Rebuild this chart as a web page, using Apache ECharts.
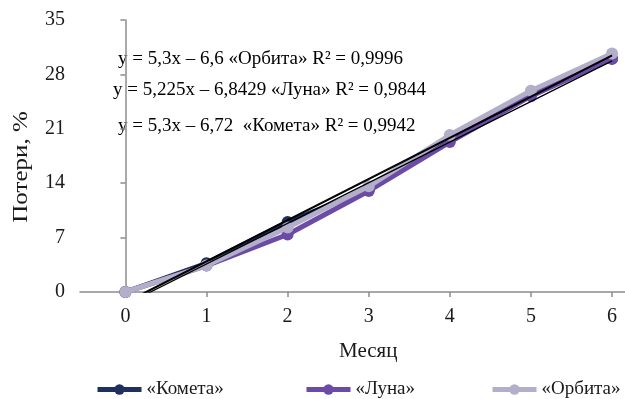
<!DOCTYPE html>
<html>
<head>
<meta charset="utf-8">
<script src="https://cdn.jsdelivr.net/npm/echarts@6/dist/echarts.min.js"></script>
<style>html,body{margin:0;padding:0;background:#fff}#c{width:625px;height:399px}</style>
</head>
<body>
<div id="c"></div>
<script>
const months = [0, 1, 2, 3, 4, 5, 6];
const kometa = [0, 3.7, 9.0, 13.2, 19.8, 25.5, 30.0];
const luna   = [0, 3.4, 7.4, 13.0, 19.3, 25.2, 30.0];
const orbita = [0, 3.4, 8.3, 13.6, 20.2, 25.9, 30.7];
const yTicks = [0, 7, 14, 21, 28, 35];
// trend coefficients [slope, intercept] (Excel x = month + 1)
const trendOrbita = [5.3, -6.6];
const trendLuna = [5.225, -6.8429];
const trendKometa = [5.3, -6.72];
const eqTexts = [
  'y = 5,3x – 6,6 «Орбита» R² = 0,9996',
  'y = 5,225x – 6,8429 «Луна» R² = 0,9844',
  'y = 5,3x – 6,72  «Комета» R² = 0,9942'
];
const names = ['«Комета»', '«Луна»', '«Орбита»'];
const colors = ['#1f2f5f', '#6b4ba6', '#b3aec9'];

const font = '"Liberation Serif", "Times New Roman", serif';
const pair = (arr) => months.map((m, i) => [m, arr[i]]);
const trend = (c) => [[months[0], c[0] * (months[0] + 1) + c[1]], [months[months.length - 1], c[0] * (months[months.length - 1] + 1) + c[1]]];

const chart = echarts.init(document.getElementById('c'));
const dataSeries = [kometa, luna, orbita].map((arr, i) => ({
  name: names[i], type: 'line', data: pair(arr),
  symbol: 'circle', symbolSize: 12, showSymbol: true,
  lineStyle: { width: 5, color: colors[i] },
  itemStyle: { color: colors[i] },
  z: 2 + i, animation: false
}));
const trendSeries = [trendOrbita, trendLuna, trendKometa].map((c) => ({
  type: 'line', data: trend(c), symbol: 'none', silent: true,
  lineStyle: { width: 1.3, color: '#000' }, z: 10, animation: false, clip: true
}));
const legendLefts = [95, 304, 490];
chart.setOption({
  animation: false,
  grid: { left: 80, right: 0, top: 20, bottom: 107 },
  xAxis: {
    type: 'value', min: -0.56, max: 6.16,
    axisLine: { show: true, lineStyle: { color: '#8c8c8c', width: 1.5 } },
    axisTick: { show: true, length: 5, inside: false, customValues: months, lineStyle: { color: '#8c8c8c', width: 1.5 } },
    axisLabel: { customValues: months, color: '#1a1a1a', fontFamily: font, fontSize: 20, margin: 15 },
    splitLine: { show: false }
  },
  yAxis: {
    type: 'value', min: 0, max: 35, interval: 7,
    axisLine: { show: true, lineStyle: { color: '#8c8c8c', width: 1.5 } },
    axisTick: { show: true, length: 5, lineStyle: { color: '#8c8c8c', width: 1.5 } },
    axisLabel: { color: '#1a1a1a', fontFamily: font, fontSize: 20, margin: 15 },
    splitLine: { show: false }
  },
  legend: names.map((n, i) => ({
    data: [n], top: 380, left: legendLefts[i], padding: 0, itemWidth: 44, itemHeight: 13,
    lineStyle: { width: 5 },
    textStyle: { color: '#1a1a1a', fontFamily: font, fontSize: 19 }
  })),
  graphic: [
    { type: 'text', left: 118, top: 50, style: { text: eqTexts[0], font: '19px ' + font, fill: '#000' } },
    { type: 'text', left: 113, top: 81, style: { text: eqTexts[1], font: '19px ' + font, fill: '#000' } },
    { type: 'text', left: 118, top: 117, style: { text: eqTexts[2], font: '19px ' + font, fill: '#000' } },
    { type: 'text', left: 339, top: 341, style: { text: 'Месяц', font: '21px ' + font, fill: '#1a1a1a' } },
    { type: 'text', x: 22, y: 167, rotation: Math.PI / 2, scaleX: 1.25,
      style: { text: 'Потери, %', font: '20px ' + font, fill: '#1a1a1a', align: 'center', verticalAlign: 'middle' } }
  ],
  series: dataSeries.concat(trendSeries)
});
</script>
</body>
</html>
